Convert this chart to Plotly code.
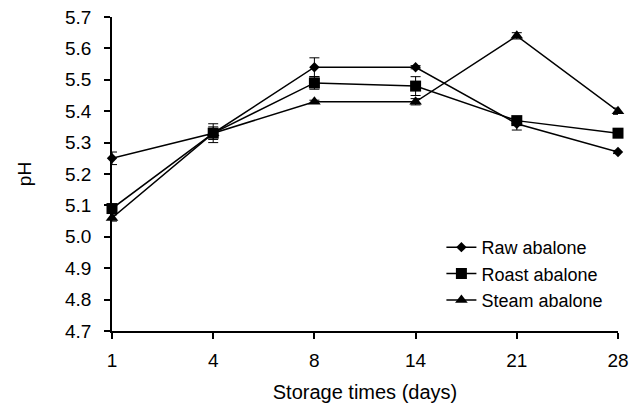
import plotly.graph_objects as go

days = ["1", "4", "8", "14", "21", "28"]
raw = [5.25, 5.33, 5.54, 5.54, 5.36, 5.27]
raw_err = [0.02, 0.01, 0.03, 0.005, 0.02, 0.005]
roast = [5.09, 5.33, 5.49, 5.48, 5.37, 5.33]
roast_err = [0.01, 0.03, 0.02, 0.03, 0.01, 0.005]
steam = [5.06, 5.33, 5.43, 5.43, 5.64, 5.40]
steam_err = [0.01, 0.02, 0.005, 0.01, 0.01, 0.01]
y_ticks = [4.7, 4.8, 4.9, 5.0, 5.1, 5.2, 5.3, 5.4, 5.5, 5.6, 5.7]

FONT = "Liberation Sans, Arial, sans-serif"
xpos = list(range(len(days)))

fig = go.Figure()
series = [
    ("Raw abalone", raw, raw_err, "diamond", 8),
    ("Roast abalone", roast, roast_err, "square", 11),
    ("Steam abalone", steam, steam_err, "triangle-up", 11),
]
for name, vals, errs, sym, size in series:
    fig.add_trace(go.Scatter(
        x=xpos, y=vals, name=name, mode="lines+markers",
        line=dict(color="black", width=1.5),
        marker=dict(symbol=sym, size=size, color="black"),
        error_y=dict(type="data", array=errs, visible=True,
                     color="black", thickness=1, width=5),
        cliponaxis=False, legendgroup=name,
    ))

fig.update_layout(
    width=641, height=407,
    margin=dict(l=112, r=23, t=17, b=76),
    paper_bgcolor="white", plot_bgcolor="white",
    font=dict(family=FONT, size=19, color="black"),
    showlegend=True,
    legend=dict(x=0.651, y=0.325, xanchor="left", yanchor="top",
                font=dict(size=18), bgcolor="rgba(0,0,0,0)",
                tracegroupgap=0, itemwidth=30),
    xaxis=dict(
        range=[0, 5], tickmode="array", tickvals=xpos, ticktext=days,
        showline=True, linecolor="black", linewidth=1.5,
        ticks="outside", ticklen=6, tickwidth=1.5, tickcolor="black",
        showgrid=False, zeroline=False, automargin=False,
        title=dict(text="Storage times (days)", standoff=15, font=dict(size=20)),
        ticklabelstandoff=5,
    ),
    yaxis=dict(
        range=[4.7, 5.7], tickmode="array", tickvals=y_ticks,
        ticktext=[f"{v:.1f}" for v in y_ticks],
        showline=True, linecolor="black", linewidth=1.5,
        ticks="outside", ticklen=6, tickwidth=1.5, tickcolor="black",
        showgrid=False, zeroline=False, automargin=False,
        title=dict(text="pH", standoff=28, font=dict(size=19)),
        ticklabelstandoff=9,
    ),
)

fig.write_html("out.html")
